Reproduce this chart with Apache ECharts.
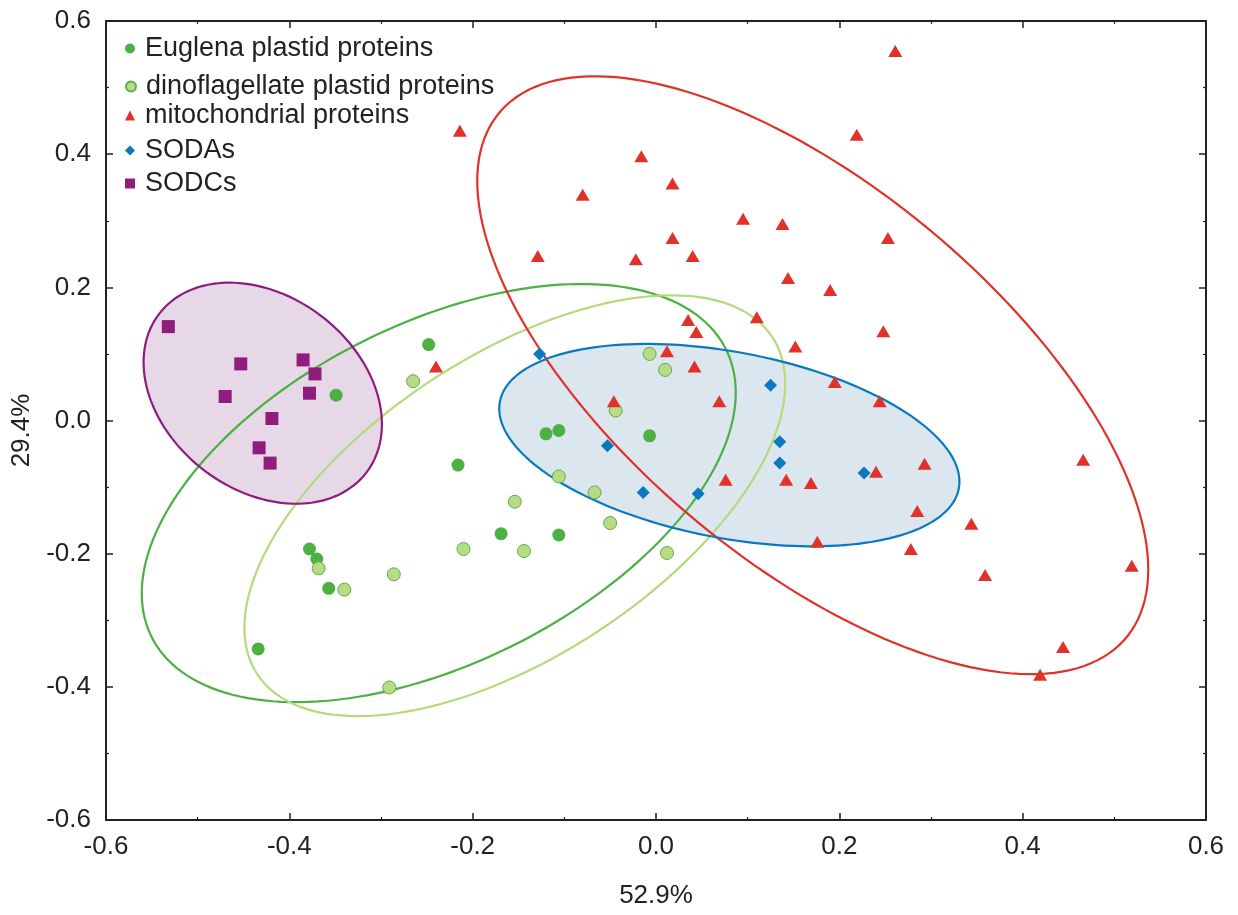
<!DOCTYPE html>
<html><head><meta charset="utf-8">
<script src="https://cdn.jsdelivr.net/npm/echarts@6/dist/echarts.min.js"></script>
<style>html,body{margin:0;padding:0;background:#fff}#c{width:1238px;height:915px}</style>
</head><body><div id="c"></div>
<script>
// ---- data ----
const seriesNames = ['Euglena plastid proteins','dinoflagellate plastid proteins','mitochondrial proteins','SODAs','SODCs'];
const euglena = [[-0.248,0.114],[-0.349,0.038],[-0.216,-0.067],[-0.120,-0.020],[-0.106,-0.015],[-0.007,-0.023],
  [-0.378,-0.193],[-0.370,-0.208],[-0.357,-0.252],[-0.169,-0.170],[-0.106,-0.172],[-0.434,-0.343]];
const dinoflagellate = [[-0.265,0.059],[-0.007,0.100],[0.010,0.076],[-0.044,0.015],[-0.106,-0.084],[-0.067,-0.108],
  [-0.154,-0.122],[-0.050,-0.154],[0.012,-0.199],[-0.210,-0.193],[-0.144,-0.196],[-0.368,-0.222],[-0.340,-0.254],
  [-0.286,-0.231],[-0.291,-0.401]];
const mitochondrial = [[-0.214,0.435],[0.261,0.555],[0.219,0.429],[-0.016,0.397],[0.018,0.356],[-0.080,0.339],
  [0.095,0.303],[0.138,0.295],[0.253,0.274],[0.018,0.274],[-0.129,0.247],[-0.022,0.242],[0.040,0.247],[0.144,0.214],
  [0.190,0.196],[0.035,0.151],[0.044,0.133],[0.110,0.155],[0.152,0.111],[0.248,0.134],[0.012,0.104],[-0.240,0.081],
  [0.042,0.081],[-0.046,0.029],[0.069,0.029],[0.195,0.058],[0.244,0.029],[0.076,-0.089],[0.142,-0.089],[0.169,-0.094],
  [0.240,-0.077],[0.293,-0.065],[0.285,-0.136],[0.176,-0.182],[0.278,-0.193],[0.344,-0.155],[0.466,-0.059],
  [0.359,-0.232],[0.519,-0.218],[0.444,-0.340],[0.419,-0.382]];
const sodas = [[-0.127,0.100],[-0.053,-0.038],[-0.014,-0.108],[0.046,-0.110],[0.125,0.053],[0.135,-0.032],
  [0.135,-0.064],[0.227,-0.079]];
const sodcs = [[-0.532,0.141],[-0.453,0.085],[-0.385,0.091],[-0.372,0.070],[-0.378,0.041],[-0.470,0.036],
  [-0.419,0.003],[-0.433,-0.041],[-0.421,-0.064]];
// confidence ellipses: centre, half-widths along x/y, phase (order: Euglena, dino, mito, SODA, SODC)
const ellipseCx = [-0.237, -0.154, 0.171, 0.080, -0.429];
const ellipseCy = [-0.109, -0.128, 0.068, -0.037, 0.041];
const ellipseRx = [0.324, 0.295, 0.366, 0.251, 0.130];
const ellipseRy = [0.314, 0.316, 0.449, 0.152, 0.166];
const ellipsePhase = [1.070, 0.952, 2.278, 1.939, 1.855];
const axisMin = -0.6, axisMax = 0.6, axisStep = 0.2;
const xAxisTitle = '52.9%', yAxisTitle = '29.4%';

// ---- style ----
const lineColors = ['#4cb043','#b3db7c','#e0322b','#0b79c0','#8e1c7e'];
const fillColors = [null, null, null, '#dbe6ee', '#e6d8e6'];
const legendTops = [35, 73, 102, 137, 170];
const FONT = 'Liberation Sans, Arial, sans-serif';

function ellipsePts(i, api){
  const pts = [];
  const n = 180;
  for (let k = 0; k <= n; k++){
    const t = 2*Math.PI*k/n;
    const x = ellipseCx[i] + ellipseRx[i]*Math.cos(t);
    const y = ellipseCy[i] + ellipseRy[i]*Math.cos(t - ellipsePhase[i]);
    pts.push(api.coord([x,y]));
  }
  return pts;
}
const ellIdx = ellipseCx.map((_,i)=>[i]);

const chart = echarts.init(document.getElementById('c'), null, {renderer:'canvas'});
const axisCommon = {
  type:'value', min:axisMin, max:axisMax, interval:axisStep,
  axisLine:{show:true, onZero:false, lineStyle:{color:'#222', width:2}},
  axisTick:{show:true, inside:true, length:7, lineStyle:{color:'#222', width:1.5}},
  minorTick:{show:true, splitNumber:2, length:3, lineStyle:{color:'#222', width:1.2}},
  splitLine:{show:false},
};
const option = {
  backgroundColor:'#fff',
  animation:false,
  grid:{left:106, right:32, top:21, bottom:95, containLabel:false},
  xAxis:[
    Object.assign({}, axisCommon, {position:'bottom',
      axisLabel:{fontSize:26, color:'#222', fontFamily:FONT, margin:14, formatter:v=>v.toFixed(1)},
      name:xAxisTitle, nameLocation:'middle', nameGap:63, nameTextStyle:{fontSize:26, color:'#222', fontFamily:FONT}}),
    Object.assign({}, axisCommon, {position:'top', axisLabel:{show:false}})
  ],
  yAxis:[
    Object.assign({}, axisCommon, {position:'left',
      axisLabel:{fontSize:26, color:'#222', fontFamily:FONT, margin:15, formatter:v=>v.toFixed(1)},
      name:yAxisTitle, nameLocation:'middle', nameGap:67, nameRotate:90,
      nameTextStyle:{fontSize:26, color:'#222', fontFamily:FONT, padding:[0,20,0,0]}}),
    Object.assign({}, axisCommon, {position:'right', axisLabel:{show:false}})
  ],
  legend: seriesNames.map((n,i)=>({
    data:[n], left:125, top:legendTops[i], padding:0, itemWidth:10, itemHeight:10, selectedMode:false,
    textStyle:{fontSize:27, color:'#222', fontFamily:FONT, padding:[0,0,0,5]}
  })),
  series:[
    {type:'custom', silent:true, z:1, data:ellIdx, renderItem:(p,api)=>{
      const i = api.value(0);
      if(!fillColors[i]) return {type:'group', children:[]};
      return {type:'polygon', shape:{points:ellipsePts(i,api), smooth:0}, style:{fill:fillColors[i], stroke:null}};
    }},
    {type:'custom', silent:true, z:2, data:ellIdx, renderItem:(p,api)=>{
      const i = api.value(0);
      return {type:'polyline', shape:{points:ellipsePts(i,api)}, style:{fill:null, stroke:lineColors[i], lineWidth:2.2}};
    }},
    {name:seriesNames[0], type:'scatter', z:5, data:euglena, symbol:'circle', symbolSize:13,
      itemStyle:{color:'#4cb043', opacity:1}},
    {name:seriesNames[1], type:'scatter', z:5, data:dinoflagellate, symbol:'circle', symbolSize:13,
      itemStyle:{color:'#b7dc85', borderColor:'#5eae4a', borderWidth:1, opacity:1}},
    {name:seriesNames[2], type:'scatter', z:5, data:mitochondrial, symbol:'triangle', symbolSize:[14,12],
      itemStyle:{color:'#e0322b', opacity:1}},
    {name:seriesNames[3], type:'scatter', z:6, data:sodas, symbol:'diamond', symbolSize:13,
      itemStyle:{color:'#0b79c0', opacity:1}},
    {name:seriesNames[4], type:'scatter', z:6, data:sodcs, symbol:'rect', symbolSize:13,
      itemStyle:{color:'#921c7e', opacity:1}}
  ]
};
chart.setOption(option);
</script></body></html>
